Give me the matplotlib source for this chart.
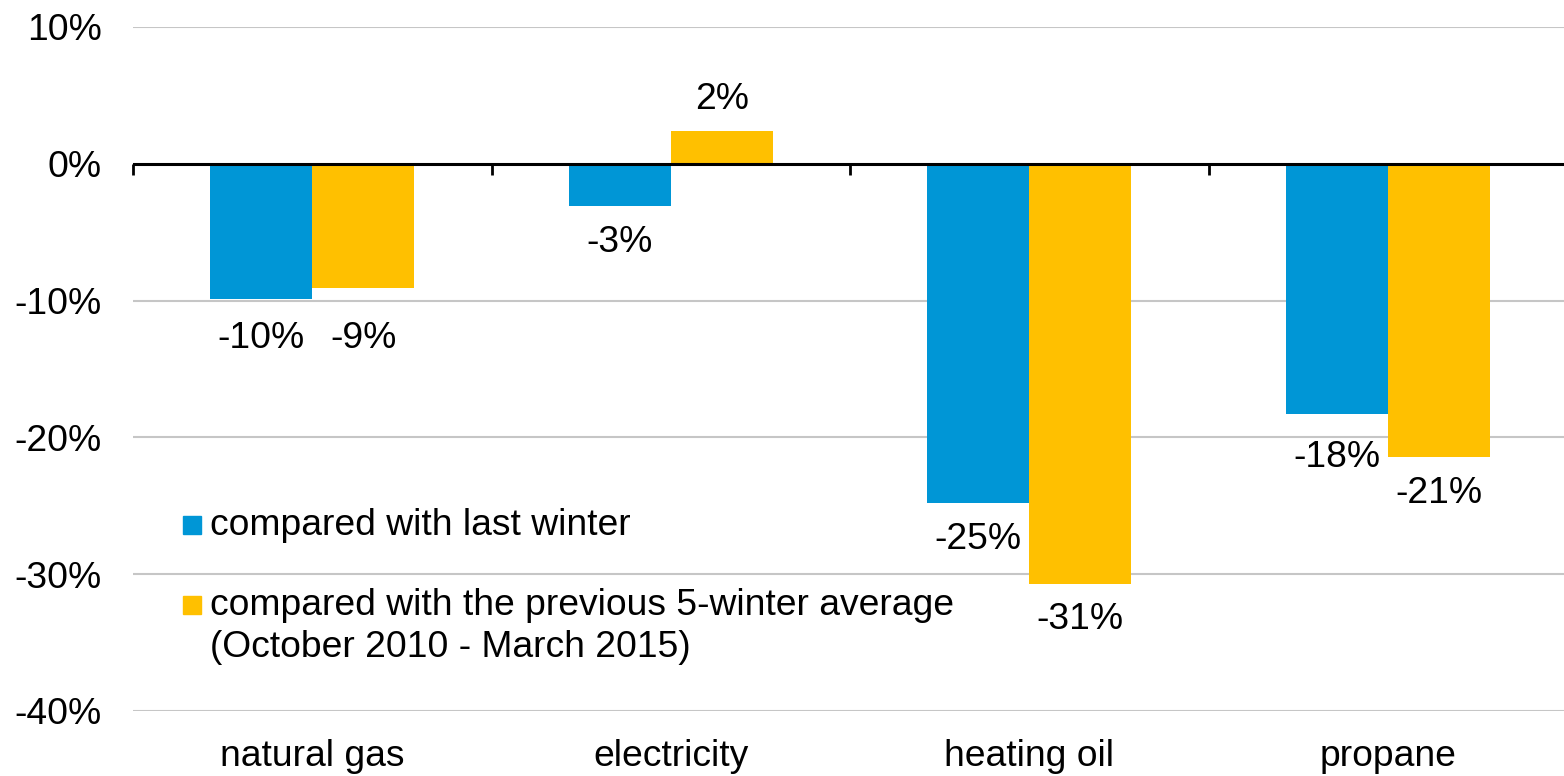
import matplotlib
matplotlib.use("Agg")
import matplotlib.pyplot as plt
from matplotlib.patches import Rectangle
import numpy as np

# Winter heating expenditure changes by fuel (percent)
categories = ["natural gas", "electricity", "heating oil", "propane"]
vs_last_winter = [-9.9, -3.1, -24.8, -18.3]
vs_five_winter_avg = [-9.1, 2.4, -30.7, -21.45]
series_names = [
    "compared with last winter",
    "compared with the previous 5-winter average\n(October 2010 - March 2015)",
]
ytick_values = [-40, -30, -20, -10, 0, 10]
ytick_labels = ["-40%", "-30%", "-20%", "-10%", "0%", "10%"]

BLUE = "#0096D6"
YELLOW = "#FFC000"
FONT = "Liberation Sans"
FS = 26.8

plt.rcParams["font.family"] = [FONT, "DejaVu Sans"]

W, H = 1564, 776
fig = plt.figure(figsize=(W / 100, H / 100), dpi=100)
ax = fig.add_axes([133 / W, (H - 711) / H, 1434 / W, 684 / H])

x = np.arange(len(categories))
bw = 0.285
bars_a = ax.bar(x - bw / 2, vs_last_winter, bw, color=BLUE, zorder=3)
bars_b = ax.bar(x + bw / 2, vs_five_winter_avg, bw, color=YELLOW, zorder=3)

ax.set_xlim(-0.5, len(categories) - 0.5)
ax.set_ylim(-40, 10)

# gridlines and the zero baseline
for v in ytick_values:
    if v != 0:
        ax.axhline(v, color="#C6C6C6", lw=1.5, zorder=1)
ax.axhline(0, color="black", lw=2.2, zorder=4)
bounds = np.arange(len(categories) + 1) - 0.5
ax.vlines(bounds, 0, -0.8, color="black", lw=2.0, zorder=4, clip_on=False)

for s in ax.spines.values():
    s.set_visible(False)

ax.set_yticks(ytick_values)
ax.set_yticklabels(ytick_labels, fontsize=FS)
ax.tick_params(axis="y", length=0, pad=22.5)
ax.set_xticks(x)
ax.set_xticklabels(categories, fontsize=FS)
ax.tick_params(axis="x", length=0, pad=20)

# value labels, placed outside the bar ends
def add_labels(bars, values, nudges):
    for b, v, n in zip(bars, values, nudges):
        cx = b.get_x() + b.get_width() / 2
        off = 31 if v >= 0 else -36
        ax.annotate(f"{v:.0f}%", (cx, v), xytext=(0, off + n),
                    textcoords="offset pixels", ha="center", va="center",
                    fontsize=FS, zorder=5)

add_labels(bars_a, vs_last_winter, [-3, 0, 0, -7])
add_labels(bars_b, vs_five_winter_avg, [-14, 0, 0, 0])

# legend: square key beside the first line of each entry
legend_rows = [(BLUE, 535), (YELLOW, 615)]
line_step = 42
for (col, base), name in zip(legend_rows, series_names):
    fig.add_artist(Rectangle((183 / W, (H - base + 1) / H), 18 / W, 18 / H,
                             color=col, transform=fig.transFigure))
    for i, line in enumerate(name.split("\n")):
        fig.text(210 / W, (H - base - i * line_step) / H, line, fontsize=FS,
                 ha="left", va="baseline", transform=fig.transFigure)

fig.savefig("out.png", dpi=100)
